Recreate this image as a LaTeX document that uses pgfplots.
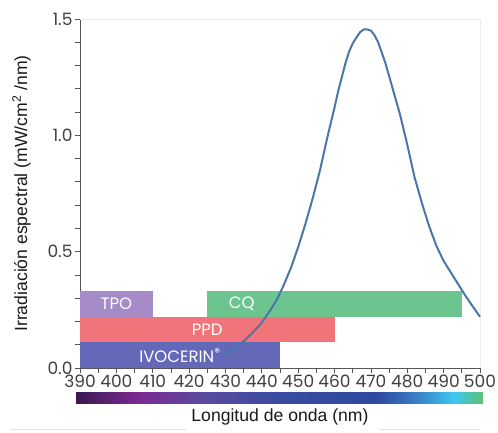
\documentclass[border=0pt]{standalone}
\usepackage{fontspec}
\setmainfont{Liberation Sans}
\newfontfamily\gothic{Poppins}
\usepackage{pgfplots}
\pgfplotsset{compat=1.18}

\definecolor{curveblue}{RGB}{74,118,168}
\definecolor{tpo}{RGB}{166,139,201}
\definecolor{cq}{RGB}{108,196,142}
\definecolor{ppd}{RGB}{240,116,122}
\definecolor{ivo}{RGB}{100,104,184}
\definecolor{axisgray}{RGB}{85,85,85}

\begin{document}
\begin{tikzpicture}
\begin{axis}[
  scale only axis,
  width=400pt, height=349pt,
  xmin=390, xmax=500, ymin=0, ymax=1.5,
  axis lines*=left,
  axis line style={axisgray, line width=0.8pt},
  tick style={axisgray, line width=0.8pt},
  tick align=outside,
  major tick length=5pt, minor tick length=5pt,
  xtick={390,400,...,500}, minor x tick num=1,
  ytick={0,0.5,1.0,1.5}, minor y tick num=4,
  /pgf/number format/assume math mode=true,
  ticklabel style={font=\gothic\fontsize{17}{17}\selectfont, text=black!75},
  xticklabel style={yshift=2pt},
  yticklabel style={xshift=1pt, /pgf/number format/.cd, fixed, fixed zerofill, precision=1},
  ylabel={Irradiación espectral (mW/cm\textsuperscript{2} /nm)},
  ylabel style={font=\fontsize{17.6}{18}\selectfont, text=black!90, yshift=10pt},
  xlabel={Longitud de onda (nm)},
  xlabel style={font=\fontsize{17.6}{18}\selectfont, text=black!90, yshift=-15pt},
  clip=false,
  colormap={spectrum}{rgb255(389)=(58,24,80); rgb255(406)=(123,42,147);
    rgb255(416)=(106,58,154); rgb255(423)=(92,74,160); rgb255(445)=(58,76,160);
    rgb255(472)=(45,74,160); rgb255(483)=(58,128,200); rgb255(493)=(60,200,240);
    rgb255(501)=(94,192,112)},
  point meta min=390, point meta max=500,
  colorbar horizontal,
  colorbar style={
    at={(parent axis.south west)}, anchor=north west,
    xshift=-4pt, yshift=-16.2pt,
    scale only axis, width=407pt, height=10.6pt,
    xtick=\empty, ytick=\empty, axis line style={draw=none},
  },
]
% faint frame on top and right
\draw[black!7, line width=0.8pt] (rel axis cs:0,1) -- (rel axis cs:1,1) -- (rel axis cs:1,0);

% absorption ranges of the photoinitiators
\addplot[draw=none, fill=tpo] coordinates {(390,0.22) (410,0.22) (410,0.33) (390,0.33)} -- cycle;
\addplot[draw=none, fill=cq]  coordinates {(425,0.22) (495,0.22) (495,0.33) (425,0.33)} -- cycle;
\addplot[draw=none, fill=ppd] coordinates {(390,0.11) (460,0.11) (460,0.22) (390,0.22)} -- cycle;
\addplot[draw=none, fill=ivo] coordinates {(390,0) (445,0) (445,0.11) (390,0.11)} -- cycle;

% spectral irradiance of the lamp
\addplot[curveblue, line width=2pt, line join=round] coordinates {
  (430,0.06) (432,0.08) (434,0.10) (436,0.13) (438,0.16) (440,0.195)
  (442,0.24) (444,0.29) (446,0.355) (448,0.43) (450,0.52) (452,0.62)
  (454,0.73) (456,0.85) (458,0.99) (460,1.12) (461,1.19) (462,1.25) (463,1.31)
  (464,1.36) (465,1.395) (466,1.42) (467,1.443) (468,1.455) (469,1.455) (470,1.45)
  (471,1.43) (472,1.40) (474,1.31) (476,1.20) (478,1.09) (480,0.96) (482,0.82)
  (484,0.71) (486,0.61) (488,0.525) (490,0.46) (492,0.41) (494,0.36) (496,0.31)
  (498,0.265) (500,0.22)
};

\begin{scope}[every node/.style={font=\gothic\fontsize{16.5}{17}\selectfont, text=white}]
\node at (axis cs:400,0.275) {TPO};
\node at (axis cs:434.5,0.275) {CQ};
\node at (axis cs:425,0.165) {PPD};
\node at (axis cs:417.5,0.055) {IVOCERIN\textsuperscript{\textregistered}};
\end{scope}

% separator under the wavelength caption
\draw[black!12, line width=0.6pt] (axis description cs:-0.175,-0.1757) -- (axis description cs:0.265,-0.1757);
\draw[black!12, line width=0.6pt] (axis description cs:0.75,-0.1757) -- (axis description cs:1.0,-0.1757);
\end{axis}
\pgfresetboundingbox
\path (-80pt,-65pt) rectangle (418pt,368pt);
\end{tikzpicture}
\end{document}
